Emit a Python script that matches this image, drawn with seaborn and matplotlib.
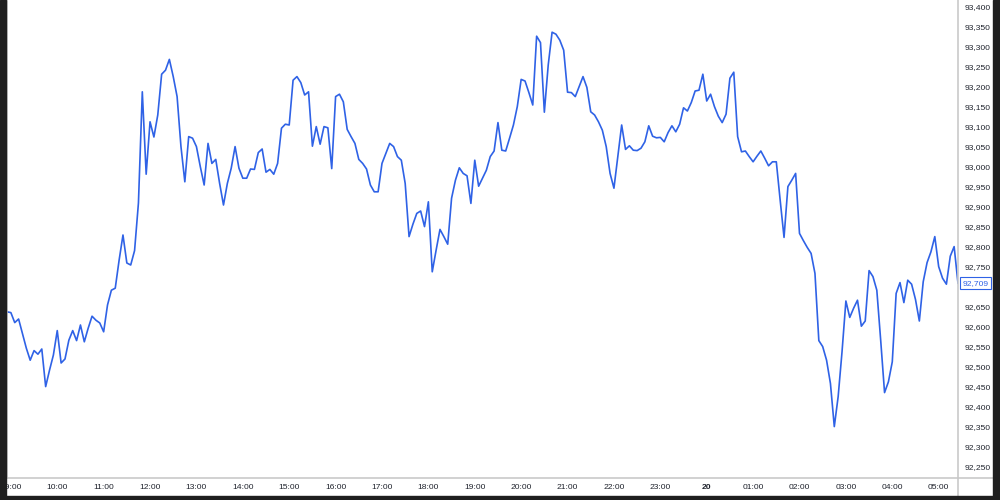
import matplotlib
matplotlib.use("Agg")
import matplotlib.pyplot as plt
import matplotlib.transforms as mtransforms
from matplotlib.patches import Rectangle
from matplotlib.lines import Line2D
import seaborn as sns
import pandas as pd

# 5-minute closes, 08:55 on the 19th to 05:25 on the 20th
start_time = "2024-01-19 08:55"
prices = [
    92638, 92636, 92611, 92620, 92584, 92547, 92517, 92541, 92532, 92545,
    92451, 92492, 92530, 92591, 92510, 92520, 92567, 92591, 92566, 92605,
    92563, 92597, 92627, 92617, 92610, 92588, 92655, 92692, 92697, 92767,
    92830, 92760, 92755, 92791, 92910, 93188, 92982, 93113, 93075, 93130,
    93232, 93242, 93269, 93226, 93176, 93051, 92963, 93076, 93072, 93051,
    93001, 92955, 93059, 93009, 93019, 92959, 92905, 92959, 92997, 93051,
    92997, 92972, 92972, 92995, 92994, 93036, 93045, 92987, 92994, 92982,
    93009, 93097, 93107, 93105, 93217, 93226, 93211, 93180, 93188, 93052,
    93101, 93057, 93101, 93098, 92996, 93176, 93182, 93163, 93094, 93076,
    93059, 93019, 93009, 92995, 92955, 92938, 92938, 93009, 93034, 93059,
    93051, 93026, 93017, 92959, 92826, 92857, 92884, 92890, 92851, 92913,
    92738, 92792, 92844, 92826, 92807, 92922, 92967, 92998, 92984, 92978,
    92909, 93017, 92952, 92972, 92992, 93026, 93040, 93111, 93042, 93040,
    93072, 93105, 93151, 93219, 93215, 93186, 93155, 93327, 93311, 93137,
    93255, 93337, 93332, 93317, 93292, 93187, 93186, 93176, 93201, 93226,
    93199, 93138, 93130, 93113, 93092, 93051, 92984, 92947, 93026, 93105,
    93044, 93053, 93042, 93041, 93047, 93063, 93103, 93077, 93073, 93074,
    93063, 93086, 93103, 93088, 93107, 93148, 93140, 93161, 93190, 93192,
    93232, 93165, 93182, 93151, 93127, 93111, 93132, 93222, 93237, 93076,
    93038, 93040, 93026, 93013, 93027, 93040, 93022, 93003, 93013, 93013,
    92917, 92824, 92951, 92967, 92984, 92834, 92816, 92799, 92784, 92734,
    92566, 92551, 92517, 92459, 92351, 92426, 92538, 92665, 92624, 92647,
    92667, 92602, 92615, 92741, 92726, 92692, 92567, 92436, 92463, 92513,
    92684, 92711, 92661, 92717, 92707, 92669, 92615, 92713, 92761, 92788,
    92826, 92751, 92722, 92707, 92777, 92801, 92709,
]

hour_ticks = pd.date_range("2024-01-19 09:00", "2024-01-20 05:00", freq="1h")
hour_labels = [
    "09:00", "10:00", "11:00", "12:00", "13:00", "14:00", "15:00", "16:00",
    "17:00", "18:00", "19:00", "20:00", "21:00", "22:00", "23:00", "20",
    "01:00", "02:00", "03:00", "04:00", "05:00",
]
price_ticks = list(range(92250, 93401, 50))

line_color = "#2f62e6"
grid_gray = "#c9c9c9"
frame_dark = "#1f1f1f"
label_size = 6.1

df = pd.DataFrame({
    "time": pd.date_range(start_time, periods=len(prices), freq="5min"),
    "price": prices,
})

sns.set_style("white")
plt.rcParams["font.family"] = ["Liberation Sans", "DejaVu Sans"]

fig = plt.figure(figsize=(10, 5), dpi=100)
fig.patch.set_facecolor("white")
ax = fig.add_axes([0.007, 0.044, 0.951, 0.956])

sns.lineplot(data=df, x="time", y="price", ax=ax, color=line_color,
             linewidth=1.2, estimator=None)

ax.set_xlim(df["time"].iloc[0], df["time"].iloc[-1])
ax.set_ylim(92222.5, 93417.5)
ax.set_xlabel("")
ax.set_ylabel("")

last = prices[-1]

# the scale hides the tick label that sits under the last price tag
ax.yaxis.tick_right()
ax.set_yticks(price_ticks)
ax.set_yticklabels([f"{p:,}" if abs(p - last) > 15 else "" for p in price_ticks])
ax.set_xticks(hour_ticks)
ax.set_xticklabels(hour_labels)
for lbl in ax.get_xticklabels():
    if lbl.get_text() == "20":
        lbl.set_fontweight("bold")
ax.tick_params(axis="both", length=0, labelsize=label_size, colors="#1f232d")
ax.tick_params(axis="y", pad=4.5)
ax.tick_params(axis="x", pad=4)

ax.spines["top"].set_visible(False)
for side in ["left", "right", "bottom"]:
    ax.spines[side].set_color(grid_gray)
    ax.spines[side].set_linewidth(1.2)

# last price tag on the right scale
trans = mtransforms.blended_transform_factory(ax.transAxes, ax.transData)
ax.text(1.0045, last, f"{last:,}", transform=trans, fontsize=label_size, color=line_color,
        ha="left", va="center",
        bbox=dict(boxstyle="square,pad=0.3", facecolor="white", edgecolor=line_color, linewidth=0.8))

# screenshot frame and scale separators
fig.add_artist(Line2D([0.958, 0.958], [0.008, 0.044], color=grid_gray, linewidth=1.2))
fig.add_artist(Line2D([0.958, 0.993], [0.044, 0.044], color=grid_gray, linewidth=1.2))
fig.add_artist(Rectangle((0, 0), 0.006, 1, transform=fig.transFigure, color=frame_dark, zorder=10))
fig.add_artist(Rectangle((0, 0), 1, 0.008, transform=fig.transFigure, color=frame_dark, zorder=10))
fig.add_artist(Rectangle((0.993, 0), 0.007, 1, transform=fig.transFigure, color=frame_dark, zorder=10))

fig.savefig("out.png", dpi=100)
plt.close(fig)
